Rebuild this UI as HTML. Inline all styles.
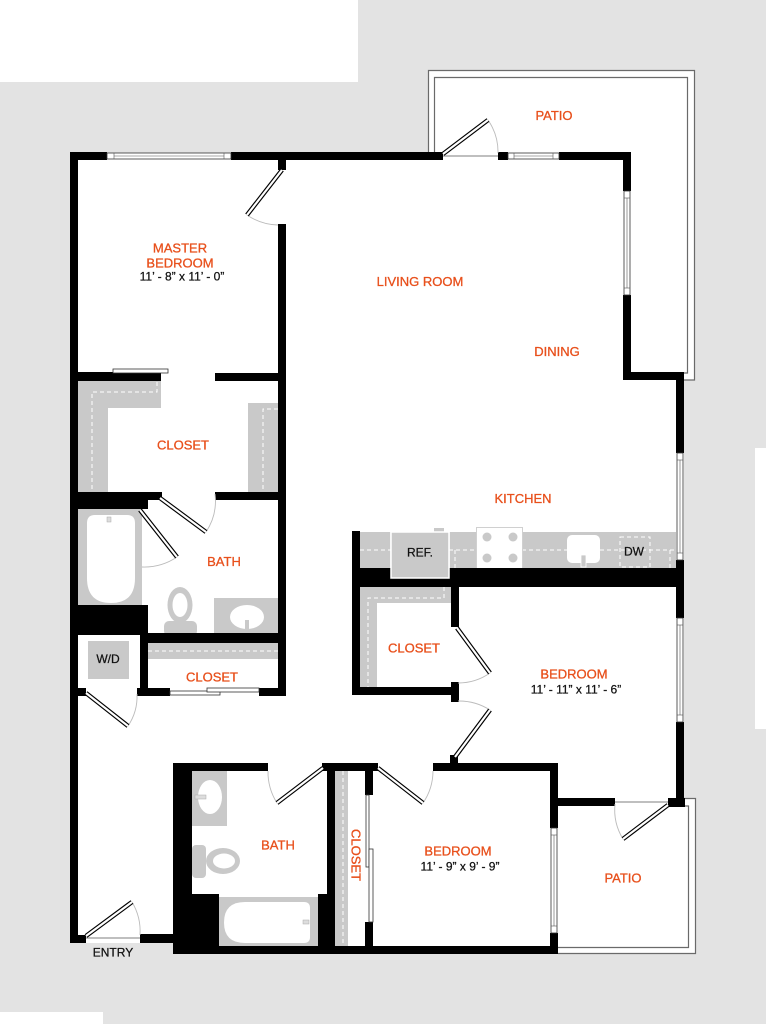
<!DOCTYPE html>
<html>
<head>
<meta charset="utf-8">
<style>
html,body{margin:0;padding:0;background:#fff;}
svg{display:block;}
text{font-family:"Liberation Sans",Arial,sans-serif;}
.o{fill:#e8501c;stroke:#e8501c;stroke-width:0.3;font-size:13px;text-anchor:middle;}
.k{fill:#111;stroke:#111;stroke-width:0.25;font-size:12px;text-anchor:middle;}
</style>
</head>
<body>
<svg width="766" height="1024" viewBox="0 0 766 1024" xmlns="http://www.w3.org/2000/svg">
<!-- background -->
<rect x="0" y="0" width="766" height="1024" fill="#e3e3e3"/>
<rect x="0" y="0" width="358" height="82" fill="#fff"/>
<rect x="0" y="1012" width="103" height="12" fill="#fff"/>
<rect x="755" y="448" width="11" height="281" fill="#fff"/>

<!-- interior white -->
<polygon points="70,153 631,153 631,372 684,372 684,806 558,806 558,954 173,954 173,943 70,943" fill="#fff"/>
<rect x="428" y="70" width="266" height="310" fill="#fff"/>
<rect x="558" y="798" width="137" height="155" fill="#fff"/>

<!-- patio outlines -->
<g fill="none" stroke="#6a6a6a" stroke-width="1.2">
<polyline points="428.5,153 428.5,70.5 694.5,70.5 694.5,380 684,380"/>
<polyline points="434.5,153 434.5,77.5 687.5,77.5 687.5,373 684,373"/>
<polyline points="684,798.5 695.5,798.5 695.5,953.5 558,953.5"/>
<polyline points="684,806 688.5,806 688.5,947.5 558,947.5"/>
</g>

<!-- gray fixtures / shelves -->
<g fill="#c9c9c9">
<rect x="78" y="381" width="83" height="27"/>
<rect x="78" y="381" width="30" height="111"/>
<rect x="248" y="403" width="30" height="89"/>
<rect x="78" y="509" width="64" height="96"/>
<rect x="214" y="598" width="64" height="37"/>
<rect x="88" y="641" width="41" height="38"/>
<rect x="148" y="643" width="130" height="16"/>
<rect x="360" y="532" width="316" height="36"/>
<rect x="360" y="587" width="91" height="16"/>
<rect x="360" y="587" width="17" height="100"/>
<rect x="192" y="771" width="35" height="55"/>
<rect x="219" y="897" width="99" height="49"/>
<rect x="335" y="771" width="13" height="176"/>
</g>

<!-- dashed shelf lines -->
<g fill="none" stroke="#fff" stroke-width="1" stroke-dasharray="4 3">
<polyline points="157,382 157,392 92,392 92,491"/>
<polyline points="278,409 263,409 263,491"/>
<line x1="148" y1="651" x2="278" y2="651"/>
<polyline points="444,587 444,598 368,598 368,687"/>
<line x1="343" y1="771" x2="343" y2="946"/>
<line x1="360" y1="550" x2="391" y2="550"/>
<line x1="449" y1="550" x2="476" y2="550"/>
<line x1="522" y1="550" x2="567" y2="550"/>
<line x1="600" y1="550" x2="675" y2="550"/>
<line x1="455" y1="550" x2="455" y2="568"/>
<line x1="670" y1="550" x2="670" y2="568"/>
<rect x="620" y="537" width="30" height="30"/>
</g>

<!-- master bath tub inner -->
<path d="M87,523 Q87,515 95,515 L127,515 Q135,515 135,523 L135,578 Q135,603 111,603 Q87,603 87,578 Z" fill="#fff"/>
<rect x="107" y="517" width="4" height="5" fill="#ddd" stroke="#aaa" stroke-width="0.5"/>
<!-- master toilet -->
<ellipse cx="180" cy="605" rx="12.5" ry="18" fill="#c9c9c9"/>
<ellipse cx="180" cy="605" rx="7.5" ry="12" fill="#fff"/>
<rect x="164" y="621" width="33" height="15" rx="5" fill="#c9c9c9"/>
<!-- master sink -->
<ellipse cx="247" cy="617" rx="17" ry="12" fill="#fff"/>
<rect x="245" y="620" width="4" height="10" fill="#c9c9c9"/>

<!-- kitchen appliances -->
<rect x="391" y="532" width="58" height="46" fill="#c9c9c9" stroke="#fff" stroke-width="1.5"/>
<rect x="434" y="528" width="10" height="4" fill="#c9c9c9"/>
<rect x="476.5" y="527.5" width="46" height="41" fill="#fff" stroke="#d0d0d0" stroke-width="1"/>
<g fill="#c9c9c9">
<circle cx="487" cy="537" r="4.5"/><circle cx="513" cy="537" r="4.5"/>
<circle cx="487" cy="558" r="4.5"/><circle cx="513" cy="558" r="4.5"/>
</g>
<rect x="567" y="535" width="33" height="28" rx="5" fill="#fff"/>
<rect x="581" y="555" width="5" height="12" fill="#c9c9c9" stroke="#fff" stroke-width="0.8"/>

<!-- bath2 fixtures -->
<ellipse cx="210" cy="797" rx="12" ry="17" fill="#fff"/>
<rect x="195" y="795" width="11" height="4" fill="#ddd" stroke="#aaa" stroke-width="0.5"/>
<rect x="192" y="845" width="14" height="33" rx="4" fill="#c9c9c9"/>
<ellipse cx="223" cy="861" rx="17" ry="13" fill="#c9c9c9"/>
<ellipse cx="224" cy="861" rx="11" ry="7.5" fill="#fff"/>
<path d="M245,902 L304,902 Q310,902 310,908 L310,937 Q310,943 304,943 L245,943 Q224,943 224,922.5 Q224,902 245,902 Z" fill="#fff"/>
<rect x="303" y="920" width="6" height="4" fill="#ddd" stroke="#aaa" stroke-width="0.5"/>

<!-- walls -->
<g fill="#000">
<rect x="70" y="152" width="37" height="8"/>
<rect x="231" y="152" width="212" height="8"/>
<rect x="498" y="152" width="10" height="8"/>
<rect x="559" y="152" width="72" height="8"/>
<rect x="623" y="152" width="8" height="39"/>
<rect x="623" y="295" width="8" height="85"/>
<rect x="623" y="372" width="61" height="8"/>
<rect x="676" y="372" width="8" height="81"/>
<rect x="676" y="560" width="8" height="58"/>
<rect x="676" y="722" width="8" height="84"/>
<rect x="558" y="798" width="57" height="8"/>
<rect x="668" y="798" width="17" height="9"/>
<rect x="550" y="763" width="8" height="65"/>
<rect x="550" y="933" width="8" height="21"/>
<rect x="173" y="946" width="385" height="8"/>
<rect x="173" y="763" width="19" height="191"/>
<rect x="173" y="763" width="95" height="8"/>
<rect x="322" y="763" width="56" height="8"/>
<rect x="327" y="763" width="8" height="191"/>
<rect x="318" y="894" width="10" height="52"/>
<rect x="192" y="894" width="27" height="52"/>
<rect x="365" y="771" width="8" height="24"/>
<rect x="365" y="922" width="8" height="25"/>
<rect x="433" y="763" width="125" height="8"/>
<rect x="450" y="755" width="8" height="15"/>
<rect x="70" y="152" width="8" height="791"/>
<rect x="70" y="935" width="16" height="8"/>
<rect x="140" y="934" width="33" height="9"/>
<rect x="278" y="160" width="8" height="10"/>
<rect x="278" y="224" width="8" height="472"/>
<rect x="78" y="372" width="83" height="9"/>
<rect x="215" y="373" width="71" height="8"/>
<rect x="78" y="492" width="84" height="8"/>
<rect x="78" y="492" width="70" height="17"/>
<rect x="215" y="492" width="71" height="8"/>
<rect x="70" y="605" width="78" height="30"/>
<rect x="148" y="633" width="138" height="10"/>
<rect x="140" y="633" width="8" height="62"/>
<rect x="137" y="688" width="33" height="8"/>
<rect x="77" y="688" width="9" height="8"/>
<rect x="259" y="688" width="27" height="8"/>
<rect x="352" y="531" width="8" height="164"/>
<rect x="352" y="568" width="332" height="19"/>
<rect x="451" y="587" width="8" height="40"/>
<rect x="451" y="682" width="8" height="20"/>
<rect x="352" y="687" width="107" height="8"/>
</g>
<rect x="391" y="532" width="58" height="46" fill="#c9c9c9" stroke="#fff" stroke-width="1.5"/>

<!-- windows -->
<g fill="#fff" stroke="#333" stroke-width="0.8">
<rect x="107" y="153" width="124" height="6"/>
<rect x="508" y="153" width="51" height="6"/>
<rect x="624" y="191" width="6" height="104"/>
<rect x="677" y="453" width="6" height="107"/>
<rect x="677" y="618" width="6" height="104"/>
<rect x="551" y="828" width="6" height="105"/>
<rect x="113" y="369" width="55" height="4"/>
<rect x="170" y="691" width="50" height="4"/>
<rect x="207" y="688" width="52" height="4"/>
<rect x="366" y="795" width="3" height="72"/>
<rect x="369" y="849" width="4" height="73"/>
</g>
<g fill="none" stroke="#555" stroke-width="0.6">
<line x1="114" y1="156" x2="224" y2="156"/>
<line x1="114" y1="153" x2="114" y2="159"/><line x1="224" y1="153" x2="224" y2="159"/>
<line x1="514" y1="156" x2="553" y2="156"/>
<line x1="514" y1="153" x2="514" y2="159"/><line x1="553" y1="153" x2="553" y2="159"/>
<line x1="627" y1="198" x2="627" y2="288"/>
<line x1="624" y1="198" x2="630" y2="198"/><line x1="624" y1="288" x2="630" y2="288"/>
<line x1="680" y1="460" x2="680" y2="553"/>
<line x1="677" y1="460" x2="683" y2="460"/><line x1="677" y1="553" x2="683" y2="553"/>
<line x1="680" y1="625" x2="680" y2="715"/>
<line x1="677" y1="625" x2="683" y2="625"/><line x1="677" y1="715" x2="683" y2="715"/>
<line x1="554" y1="835" x2="554" y2="926"/>
<line x1="551" y1="835" x2="557" y2="835"/><line x1="551" y1="926" x2="557" y2="926"/>
</g>
<g stroke="#555" stroke-width="0.8">
<line x1="443" y1="156" x2="498" y2="156"/>
<line x1="86" y1="938" x2="140" y2="938"/>
<line x1="615" y1="802" x2="668" y2="802"/>
</g>

<!-- door swing arcs -->
<g fill="none" stroke="#bbb" stroke-width="0.9">
<path d="M247,215 A57,57 0 0 0 278,225"/>
<path d="M488,120 A56,56 0 0 1 498,153"/>
<path d="M206,532 A56,56 0 0 0 215,494"/>
<path d="M177,557 A59,59 0 0 1 142,567"/>
<path d="M128,726 A53,53 0 0 0 137,694"/>
<path d="M490,673 A56,56 0 0 1 458,683"/>
<path d="M490,710 A58,58 0 0 0 458,701"/>
<path d="M132,902 A57,57 0 0 1 140,935"/>
<path d="M277,803 A58,58 0 0 1 268,771"/>
<path d="M423,803 A57,57 0 0 0 433,771"/>
<path d="M623,839 A56,56 0 0 1 615,804"/>
</g>

<!-- door leaves -->
<g stroke-linecap="butt">
<g stroke="#000" stroke-width="4.5">
<line x1="282" y1="170" x2="247" y2="215"/>
<line x1="443" y1="154" x2="488" y2="120"/>
<line x1="160" y1="498" x2="206" y2="532"/>
<line x1="140" y1="510" x2="177" y2="557"/>
<line x1="86" y1="693" x2="128" y2="726"/>
<line x1="457" y1="628" x2="490" y2="673"/>
<line x1="455" y1="757" x2="490" y2="710"/>
<line x1="86" y1="936" x2="132" y2="902"/>
<line x1="323" y1="768" x2="277" y2="803"/>
<line x1="378" y1="768" x2="423" y2="803"/>
<line x1="668" y1="805" x2="623" y2="839"/>
</g>
<g stroke="#fff" stroke-width="2.2">
<line x1="282" y1="170" x2="247" y2="215"/>
<line x1="443" y1="154" x2="488" y2="120"/>
<line x1="160" y1="498" x2="206" y2="532"/>
<line x1="140" y1="510" x2="177" y2="557"/>
<line x1="86" y1="693" x2="128" y2="726"/>
<line x1="457" y1="628" x2="490" y2="673"/>
<line x1="455" y1="757" x2="490" y2="710"/>
<line x1="86" y1="936" x2="132" y2="902"/>
<line x1="323" y1="768" x2="277" y2="803"/>
<line x1="378" y1="768" x2="423" y2="803"/>
<line x1="668" y1="805" x2="623" y2="839"/>
</g>
</g>

<!-- labels -->
<text class="o" x="554" y="120">PATIO</text>
<text class="o" x="180" y="252.5">MASTER</text>
<text class="o" x="180" y="267.5">BEDROOM</text>
<text class="k" x="182" y="280.5">11’ - 8” x 11’ - 0”</text>
<text class="o" x="420" y="286">LIVING ROOM</text>
<text class="o" x="557" y="356">DINING</text>
<text class="o" x="183" y="449.5">CLOSET</text>
<text class="o" x="224" y="566">BATH</text>
<text class="o" x="523" y="503">KITCHEN</text>
<text class="k" x="420" y="556.5">REF.</text>
<text class="k" x="634" y="555.5">DW</text>
<text class="k" x="108" y="663">W/D</text>
<text class="o" x="212" y="681.5">CLOSET</text>
<text class="o" x="414" y="652.5">CLOSET</text>
<text class="o" x="574" y="678.5">BEDROOM</text>
<text class="k" x="576" y="693.5">11’ - 11” x 11’ - 6”</text>
<text class="o" x="278" y="849.5">BATH</text>
<text class="o" transform="translate(356,855) rotate(90)" x="0" y="4.5">CLOSET</text>
<text class="o" x="458" y="855.5">BEDROOM</text>
<text class="k" x="460" y="870.5">11’ - 9” x 9’ - 9”</text>
<text class="o" x="623" y="882.5">PATIO</text>
<text class="k" x="113" y="956.5">ENTRY</text>
</svg>
</body>
</html>
